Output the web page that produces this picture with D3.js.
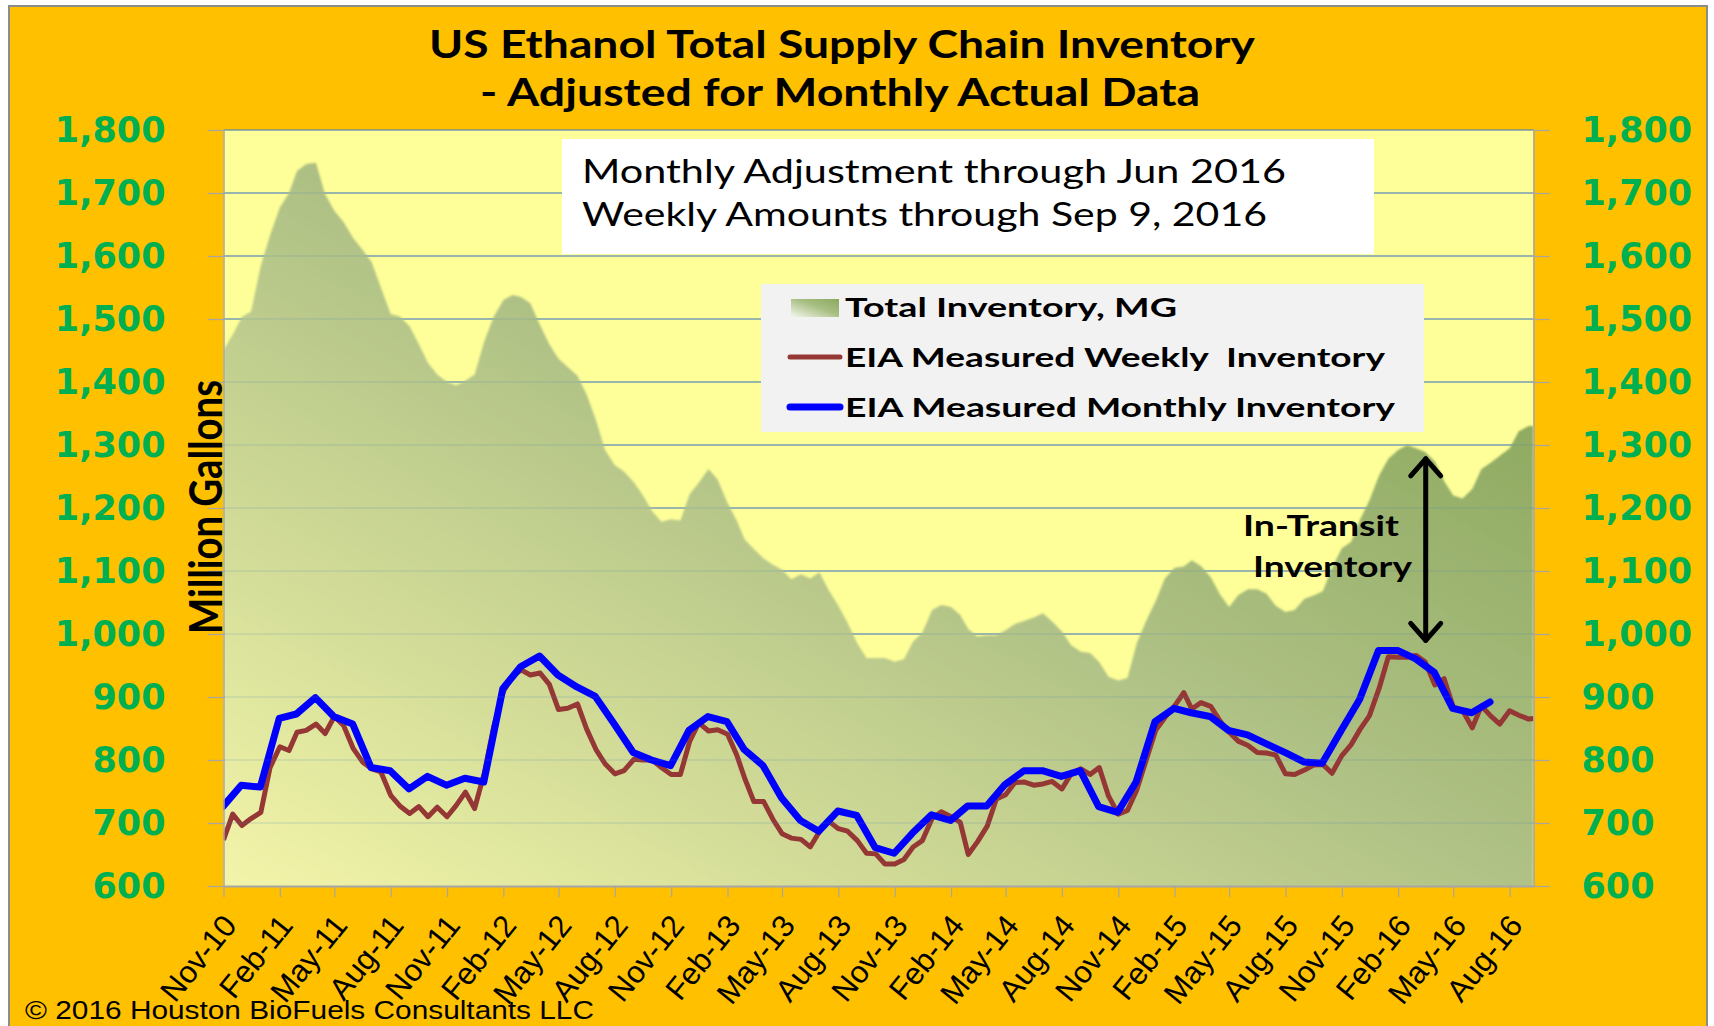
<!DOCTYPE html>
<html>
<head>
<meta charset="utf-8">
<script src="https://cdn.jsdelivr.net/npm/d3@7"></script>
<style>
  body { margin: 0; background: #fff; }
</style>
</head>
<body>
<div id="chart"></div>
<script>
// half-month sample dates for the total and weekly series
const halfMonthDates = [
  "2010-11-01","2010-11-16","2010-12-01","2010-12-16",
  "2011-01-01","2011-01-16","2011-02-01","2011-02-16","2011-03-01","2011-03-16","2011-04-01","2011-04-16",
  "2011-05-01","2011-05-16","2011-06-01","2011-06-16","2011-07-01","2011-07-16","2011-08-01","2011-08-16",
  "2011-09-01","2011-09-16","2011-10-01","2011-10-16","2011-11-01","2011-11-16","2011-12-01","2011-12-16",
  "2012-01-01","2012-01-16","2012-02-01","2012-02-16","2012-03-01","2012-03-16","2012-04-01","2012-04-16",
  "2012-05-01","2012-05-16","2012-06-01","2012-06-16","2012-07-01","2012-07-16","2012-08-01","2012-08-16",
  "2012-09-01","2012-09-16","2012-10-01","2012-10-16","2012-11-01","2012-11-16","2012-12-01","2012-12-16",
  "2013-01-01","2013-01-16","2013-02-01","2013-02-16","2013-03-01","2013-03-16","2013-04-01","2013-04-16",
  "2013-05-01","2013-05-16","2013-06-01","2013-06-16","2013-07-01","2013-07-16","2013-08-01","2013-08-16",
  "2013-09-01","2013-09-16","2013-10-01","2013-10-16","2013-11-01","2013-11-16","2013-12-01","2013-12-16",
  "2014-01-01","2014-01-16","2014-02-01","2014-02-16","2014-03-01","2014-03-16","2014-04-01","2014-04-16",
  "2014-05-01","2014-05-16","2014-06-01","2014-06-16","2014-07-01","2014-07-16","2014-08-01","2014-08-16",
  "2014-09-01","2014-09-16","2014-10-01","2014-10-16","2014-11-01","2014-11-16","2014-12-01","2014-12-16",
  "2015-01-01","2015-01-16","2015-02-01","2015-02-16","2015-03-01","2015-03-16","2015-04-01","2015-04-16",
  "2015-05-01","2015-05-16","2015-06-01","2015-06-16","2015-07-01","2015-07-16","2015-08-01","2015-08-16",
  "2015-09-01","2015-09-16","2015-10-01","2015-10-16","2015-11-01","2015-11-16","2015-12-01","2015-12-16",
  "2016-01-01","2016-01-16","2016-02-01","2016-02-16","2016-03-01","2016-03-16","2016-04-01","2016-04-16",
  "2016-05-01","2016-05-16","2016-06-01","2016-06-16","2016-07-01","2016-07-16","2016-08-01","2016-08-16",
  "2016-09-01","2016-09-09"
];

// Total Inventory, MG
const totalInventory = [
  1451,1475,1503,1512,1585,1633,1677,1700,1735,1746,
  1748,1698,1672,1654,1628,1610,1590,1550,1508,1504,
  1488,1460,1430,1412,1400,1395,1402,1412,1465,1503,
  1530,1538,1535,1525,1490,1460,1437,1424,1410,1380,
  1340,1292,1268,1258,1241,1220,1195,1178,1182,1180,
  1222,1240,1262,1245,1208,1180,1150,1135,1120,1110,
  1102,1087,1095,1088,1098,1070,1045,1018,985,962,
  962,962,956,960,988,1002,1038,1046,1043,1030,
  1008,996,998,998,1006,1016,1021,1026,1033,1020,
  1004,982,972,970,955,932,926,930,985,1020,
  1052,1088,1105,1107,1117,1108,1090,1063,1043,1062,
  1071,1071,1064,1045,1035,1038,1056,1061,1068,1105,
  1136,1146,1182,1212,1252,1278,1292,1300,1295,1289,
  1274,1243,1220,1215,1230,1262,1272,1283,1295,1322,
  1330,1330
];

// EIA Measured Weekly Inventory
const weeklyInventory = [
  673,714,696,707,717,788,821,815,844,847,
  857,842,869,855,818,797,786,781,744,727,
  715,726,710,725,710,728,749,723,780,852,
  909,933,943,935,938,920,880,882,889,849,
  817,794,778,783,801,800,800,788,777,777,
  829,859,846,848,841,808,771,734,734,706,
  683,676,674,662,686,703,691,687,672,652,
  651,635,635,642,662,672,707,718,710,701,
  650,670,695,738,745,764,765,760,762,766,
  754,778,786,777,788,743,714,720,752,798,
  847,867,886,907,881,891,885,862,844,830,
  823,812,811,808,778,777,784,792,793,779,
  807,824,849,870,914,964,963,963,966,956,
  919,929,884,879,851,886,870,857,878,871,
  865,866
];

// EIA Measured Monthly Inventory (end of month)
const monthlyMonths = [
  "2010-10","2010-11","2010-12",
  "2011-01","2011-02","2011-03","2011-04","2011-05","2011-06","2011-07","2011-08","2011-09","2011-10","2011-11","2011-12",
  "2012-01","2012-02","2012-03","2012-04","2012-05","2012-06","2012-07","2012-08","2012-09","2012-10","2012-11","2012-12",
  "2013-01","2013-02","2013-03","2013-04","2013-05","2013-06","2013-07","2013-08","2013-09","2013-10","2013-11","2013-12",
  "2014-01","2014-02","2014-03","2014-04","2014-05","2014-06","2014-07","2014-08","2014-09","2014-10","2014-11","2014-12",
  "2015-01","2015-02","2015-03","2015-04","2015-05","2015-06","2015-07","2015-08","2015-09","2015-10","2015-11","2015-12",
  "2016-01","2016-02","2016-03","2016-04","2016-05","2016-06"
];
const monthlyInventory = [
  726,760,757,866,873,899,869,857,788,783,
  754,774,760,771,765,913,948,965,935,916,
  901,857,812,800,791,847,869,861,817,791,
  740,704,687,719,712,661,652,684,713,704,
  727,727,761,783,783,774,783,726,717,765,
  861,882,875,869,847,840,826,812,797,795,
  847,896,974,974,961,939,882,875,892
];

const yTicks = [600,700,800,900,1000,1100,1200,1300,1400,1500,1600,1700,1800];
const xTickLabels = ["Nov-10","Feb-11","May-11","Aug-11","Nov-11","Feb-12","May-12","Aug-12",
  "Nov-12","Feb-13","May-13","Aug-13","Nov-13","Feb-14","May-14","Aug-14",
  "Nov-14","Feb-15","May-15","Aug-15","Nov-15","Feb-16","May-16","Aug-16"];
const legendLabels = ["Total Inventory, MG","EIA Measured Weekly  Inventory","EIA Measured Monthly Inventory"];
// in-transit arrow: date and the two values it spans
const transitArrow = { date: "2016-03-17", top: 1278, bottom: 990 };

const W = 1714, H = 1026;
const P = { l: 223.5, r: 1533.5, t: 130, b: 886 };
const parseDay = d3.timeParse("%Y-%m-%d");
const parseMonth = d3.timeParse("%Y-%m");
const parseTick = d3.timeParse("%b-%y");

const halfData = halfMonthDates.map((d, i) => ({ date: parseDay(d), total: totalInventory[i], weekly: weeklyInventory[i] }));
const monthData = monthlyMonths.map((m, i) => ({
  date: d3.timeDay.offset(d3.timeMonth.offset(parseMonth(m), 1), -1),
  v: monthlyInventory[i]
}));

const svg = d3.select('#chart')
  .append('svg')
    .attr('width', W)
    .attr('height', H);

const defs = svg.append('defs');
let grad = defs.append('linearGradient')
  .attr('id', 'areaGrad')
  .attr('x1', 0).attr('y1', 1).attr('x2', 1).attr('y2', 0);
grad.append('stop').attr('offset', 0).attr('stop-color', '#f3f5a9');
grad.append('stop').attr('offset', 0.5).attr('stop-color', '#b0c286');
grad.append('stop').attr('offset', 1).attr('stop-color', '#7c9d4c');

let swatchGrad = defs.append('linearGradient')
  .attr('id', 'swatchGrad')
  .attr('x1', 0).attr('y1', 1).attr('x2', 1).attr('y2', 0);
swatchGrad.append('stop').attr('offset', 0).attr('stop-color', '#f4f7ee');
swatchGrad.append('stop').attr('offset', 0.55).attr('stop-color', '#a9bf84');
swatchGrad.append('stop').attr('offset', 1).attr('stop-color', '#8aa95e');

defs.append('filter').attr('id', 'soft')
  .append('feGaussianBlur').attr('stdDeviation', 1.2);

defs.append('clipPath').attr('id', 'plotClip')
  .append('rect')
    .attr('x', P.l).attr('y', P.t - 20)
    .attr('width', P.r - P.l).attr('height', P.b - P.t + 20);

// background
svg.append('rect')
  .attr('width', W).attr('height', H)
  .attr('fill', '#ffffff');
svg.append('rect')
  .attr('x', 9).attr('y', 6)
  .attr('width', 1698).attr('height', H + 10)
  .attr('fill', '#ffc000')
  .attr('stroke', '#8c8c8c')
  .attr('stroke-width', 2);

let x = d3.scaleTime()
  .domain([parseDay(halfMonthDates[0]), parseDay(halfMonthDates[halfMonthDates.length - 1])])
  .range([P.l, P.r]);
let y = d3.scaleLinear()
  .domain([600, 1800])
  .range([P.b, P.t]);

svg.append('rect')
  .attr('x', P.l).attr('y', P.t)
  .attr('width', P.r - P.l).attr('height', P.b - P.t)
  .attr('fill', '#ffff99');

const drawGrid = (opacity) => {
  svg.append('g')
    .selectAll('line')
    .data(yTicks.slice(1))
    .enter()
    .append('line')
      .attr('x1', P.l).attr('x2', P.r)
      .attr('y1', d => y(d)).attr('y2', d => y(d))
      .attr('stroke', '#4a7ebb')
      .attr('stroke-width', 1.2)
      .attr('stroke-opacity', opacity);
};
drawGrid(1);

let plot = svg.append('g').attr('clip-path', 'url(#plotClip)');

let area = d3.area()
  .x(d => x(d.date))
  .y0(y(600) + 4)
  .y1(d => y(d.total));
plot.append('path')
  .datum(halfData)
  .attr('d', area)
  .attr('fill', 'url(#areaGrad)')
  .attr('filter', 'url(#soft)');

drawGrid(0.25);

let weeklyLine = d3.line()
  .x(d => x(d.date))
  .y(d => y(d.weekly));
plot.append('path')
  .datum(halfData)
  .attr('d', weeklyLine)
  .attr('fill', 'none')
  .attr('stroke', '#953735')
  .attr('stroke-width', 5)
  .attr('stroke-linejoin', 'round');

let monthlyLine = d3.line()
  .x(d => x(d.date))
  .y(d => y(d.v));
plot.append('path')
  .datum(monthData)
  .attr('d', monthlyLine)
  .attr('fill', 'none')
  .attr('stroke', '#0000ff')
  .attr('stroke-width', 7)
  .attr('stroke-linejoin', 'round')
  .attr('stroke-linecap', 'round');

// axes
const axisGray = '#a6a6a6';
let yFormat = d3.format(',');
let leftAxis = svg.append('g')
  .attr('transform', `translate(${P.l},0)`)
  .call(d3.axisLeft(y).tickValues(yTicks).tickSize(16).tickSizeOuter(0).tickPadding(42).tickFormat(yFormat));
let rightAxis = svg.append('g')
  .attr('transform', `translate(${P.r},0)`)
  .call(d3.axisRight(y).tickValues(yTicks).tickSize(16).tickSizeOuter(0).tickPadding(32).tickFormat(yFormat));
[leftAxis, rightAxis].forEach(a => {
  a.select('.domain').attr('stroke', axisGray).attr('stroke-width', 1.5);
  a.selectAll('.tick line').attr('stroke', axisGray).attr('stroke-width', 1.2);
  a.selectAll('.tick text')
    .attr('fill', '#00b050')
    .style('font-family', '"DejaVu Sans", Verdana, sans-serif')
    .style('font-weight', 'bold')
    .style('font-size', '35px');
});

let tickDates = xTickLabels.map(s => parseTick(s));
let bottomAxis = svg.append('g')
  .attr('transform', `translate(0,${P.b})`)
  .call(d3.axisBottom(x).tickValues(tickDates).tickSize(11).tickSizeOuter(0).tickFormat((d, i) => xTickLabels[i]));
bottomAxis.select('.domain').attr('stroke', axisGray).attr('stroke-width', 2);
bottomAxis.selectAll('.tick line').attr('stroke', axisGray).attr('stroke-width', 1.2);
bottomAxis.selectAll('.tick text')
  .attr('fill', '#000')
  .attr('x', 0).attr('y', 0).attr('dy', 0)
  .attr('text-anchor', 'end')
  .attr('transform', 'translate(14,40) rotate(-51)')
  .style('font-family', '"Liberation Sans", Arial, sans-serif')
  .style('font-size', '31px');

// titles
const title = svg.append('g')
  .style('font-family', 'Lato, "Open Sans", sans-serif')
  .style('font-weight', 'bold')
  .attr('fill', '#000');
title.append('text')
  .attr('x', 842).attr('y', 58)
  .attr('text-anchor', 'middle')
  .attr('textLength', 826).attr('lengthAdjust', 'spacingAndGlyphs')
  .style('font-size', '38px')
  .text('US Ethanol Total Supply Chain Inventory');
title.append('text')
  .attr('x', 840).attr('y', 106)
  .attr('text-anchor', 'middle')
  .attr('textLength', 720).attr('lengthAdjust', 'spacingAndGlyphs')
  .style('font-size', '38px')
  .text('- Adjusted for Monthly Actual Data');

svg.append('text')
  .attr('transform', 'translate(222,507) rotate(-90)')
  .attr('text-anchor', 'middle')
  .attr('textLength', 254).attr('lengthAdjust', 'spacingAndGlyphs')
  .style('font-family', 'Lato, "Open Sans", sans-serif')
  .style('font-weight', 'bold')
  .style('font-size', '45px')
  .text('Million Gallons');

// note box
svg.append('rect')
  .attr('x', 562).attr('y', 139)
  .attr('width', 812).attr('height', 115)
  .attr('fill', '#ffffff');
let note = svg.append('g')
  .style('font-family', 'Lato, "Open Sans", sans-serif')
  .style('font-size', '33px')
  .attr('fill', '#000');
note.append('text')
  .attr('x', 582).attr('y', 183)
  .attr('textLength', 704).attr('lengthAdjust', 'spacingAndGlyphs')
  .text('Monthly Adjustment through Jun 2016');
note.append('text')
  .attr('x', 582).attr('y', 226)
  .attr('textLength', 685).attr('lengthAdjust', 'spacingAndGlyphs')
  .text('Weekly Amounts through Sep 9, 2016');

// legend
let legend = svg.append('g');
legend.append('rect')
  .attr('x', 761).attr('y', 284)
  .attr('width', 663).attr('height', 148)
  .attr('fill', '#f2f2f2');
legend.append('rect')
  .attr('x', 791).attr('y', 299)
  .attr('width', 48).attr('height', 18)
  .attr('fill', 'url(#swatchGrad)');
legend.append('line')
  .attr('x1', 790).attr('x2', 840).attr('y1', 357).attr('y2', 357)
  .attr('stroke', '#953735').attr('stroke-width', 5).attr('stroke-linecap', 'round');
legend.append('line')
  .attr('x1', 790).attr('x2', 840).attr('y1', 407).attr('y2', 407)
  .attr('stroke', '#0000ff').attr('stroke-width', 7).attr('stroke-linecap', 'round');
const legendY = [317, 367, 417];
const legendLen = [332, 540, 550];
legend.selectAll('text')
  .data(legendLabels)
  .enter()
  .append('text')
    .attr('x', 845)
    .attr('y', (d, i) => legendY[i])
    .attr('textLength', (d, i) => legendLen[i])
    .attr('lengthAdjust', 'spacingAndGlyphs')
    .style('font-family', 'Lato, "Open Sans", sans-serif')
    .style('font-weight', 'bold')
    .style('font-size', '26.5px')
    .style('white-space', 'pre')
    .text(d => d);

// in-transit annotation
let ax = x(parseDay(transitArrow.date));
let aTop = y(transitArrow.top), aBot = y(transitArrow.bottom);
let arrow = svg.append('g')
  .attr('stroke', '#000').attr('stroke-width', 5)
  .attr('stroke-linecap', 'round').attr('stroke-linejoin', 'round')
  .attr('fill', 'none');
arrow.append('line').attr('x1', ax).attr('x2', ax).attr('y1', aTop).attr('y2', aBot);
arrow.append('path').attr('d', `M${ax - 15},${aTop + 17}L${ax},${aTop}L${ax + 15},${aTop + 17}`);
arrow.append('path').attr('d', `M${ax - 15},${aBot - 17}L${ax},${aBot}L${ax + 15},${aBot - 17}`);

let transit = svg.append('g')
  .style('font-family', 'Lato, "Open Sans", sans-serif')
  .style('font-weight', 'bold')
  .style('font-size', '29px');
transit.append('text')
  .attr('x', 1243).attr('y', 536)
  .attr('textLength', 156).attr('lengthAdjust', 'spacingAndGlyphs')
  .text('In-Transit');
transit.append('text')
  .attr('x', 1253).attr('y', 577)
  .attr('textLength', 159).attr('lengthAdjust', 'spacingAndGlyphs')
  .text('Inventory');

svg.append('text')
  .attr('x', 25).attr('y', 1019)
  .attr('textLength', 569).attr('lengthAdjust', 'spacingAndGlyphs')
  .style('font-family', '"Liberation Sans", Arial, sans-serif')
  .style('font-size', '25px')
  .text('\u00a9 2016 Houston BioFuels Consultants LLC');
</script>
</body>
</html>
